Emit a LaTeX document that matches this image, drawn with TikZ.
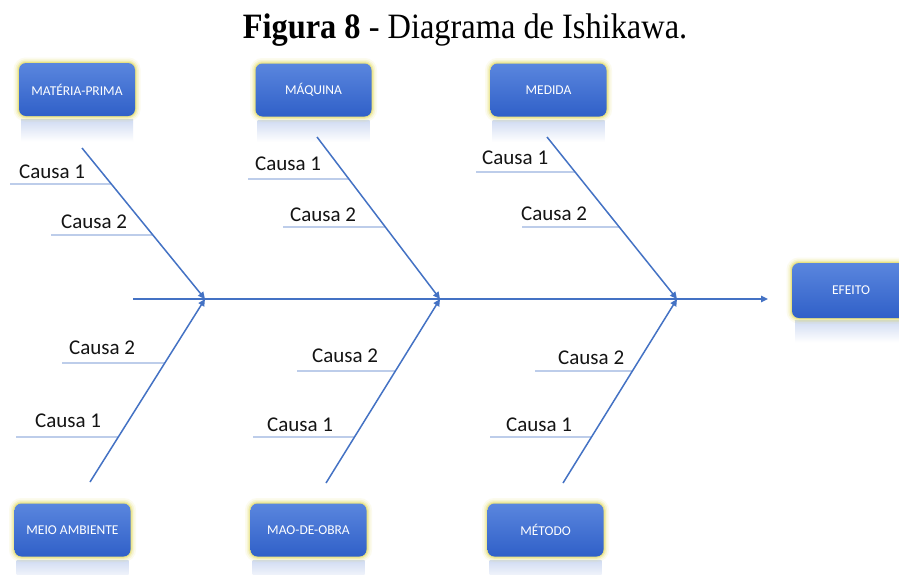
\documentclass[tikz,border=0pt]{standalone}
\usepackage{fontspec}
\setmainfont{Liberation Serif}
\newfontfamily\calib{Carlito}
\usetikzlibrary{arrows.meta,calc}

\definecolor{bone}{RGB}{68,114,196}
\definecolor{boxtop}{RGB}{90,134,222}
\definecolor{boxbot}{RGB}{48,96,200}
\definecolor{glow}{RGB}{226,218,96}
\definecolor{mirror}{RGB}{208,219,242}
\definecolor{ink}{RGB}{20,20,20}

\tikzset{
  cat/.style={rounded corners=7pt, minimum width=116pt, minimum height=53pt,
    inner sep=0pt, top color=boxtop, bottom color=boxbot, text=white,
    font=\calib\fontsize{13.5}{16}\selectfont,
    preaction={draw=glow, line width=11pt, draw opacity=0.10},
    preaction={draw=glow, line width=7.5pt, draw opacity=0.18},
    preaction={draw=glow, line width=4.5pt, draw opacity=0.32},
    preaction={draw=glow, line width=2pt, draw opacity=0.55}},
  reflect/.style={top color=mirror, bottom color=white},
  bonel/.style={draw=bone, line width=1.5pt},
  causel/.style={draw=bone, line width=0.9pt},
  tipped/.style={-{Triangle[length=7pt,width=6.5pt]}},
  causa/.style={anchor=base west, inner sep=0pt, text=ink,
    font=\calib\fontsize{21}{25}\selectfont},
}

% horizontal cause line from its free end to the bone it hangs on
\newcommand\causeline[3]{%
  \draw[causel] (#1) -- (intersection cs: first line={(#2)--(#3)},
    second line={(#1)--([xshift=10pt]#1)});}

\begin{document}
\begin{tikzpicture}[x=1pt,y=-1pt]
\clip (0,0) rectangle (899,574);
\fill[white] (0,0) rectangle (899,574);

% title
\node[anchor=base, inner sep=0pt, font=\fontsize{32.4}{38}\selectfont] (title)
  at (465,38) {\scalebox{1}[1.1]{\textbf{Figura 8} - Diagrama de Ishikawa.}};

% reflections under the category boxes
\foreach \cx/\cy in {77/89.5, 313.5/90, 548.5/90, 851/290.5, 72.5/530, 308.5/530, 545.5/530}{
  \shade[reflect] (\cx-56,\cy+30) rectangle (\cx+56,\cy+52);
}

% category boxes
\node[cat] (mp)  at (77,89.5)  {MATÉRIA-PRIMA};
\node[cat] (maq) at (313.5,90) {MÁQUINA};
\node[cat] (med) at (548.5,90) {MEDIDA};
\node[cat, minimum width=118pt, minimum height=55pt] (ef) at (851,290.5) {EFEITO};
\node[cat] (ma)  at (72.5,530)  {MEIO AMBIENTE};
\node[cat] (mo)  at (308.5,530) {MAO-DE-OBRA};
\node[cat] (met) at (545.5,530) {MÉTODO};

% spine
\coordinate (tail) at (133,299);
\coordinate (head) at (768,299);
\coordinate (j1) at (205,299);
\coordinate (j2) at (440,299);
\coordinate (j3) at (677,299);
\draw[bonel, tipped] (tail) -- (head);

% bones
\coordinate (mpS)  at (82,148);
\coordinate (maqS) at (317,137);
\coordinate (medS) at (547,137);
\coordinate (maS)  at (90,482);
\coordinate (moS)  at (326,483);
\coordinate (metS) at (563,483);
\draw[bonel, tipped] (mpS) -- (j1);
\draw[bonel, tipped] (maS) -- (j1);
\draw[bonel, tipped] (maqS) -- (j2);
\draw[bonel, tipped] (moS) -- (j2);
\draw[bonel, tipped] (medS) -- (j3);
\draw[bonel, tipped] (metS) -- (j3);

% cause lines
\coordinate (mp1) at (10,184);   \coordinate (mp2) at (51,235);
\coordinate (maq1) at (248,179); \coordinate (maq2) at (283,227);
\coordinate (med1) at (476,172); \coordinate (med2) at (522,227);
\coordinate (ma2) at (62,363);   \coordinate (ma1) at (16,437);
\coordinate (mo2) at (297,371);  \coordinate (mo1) at (253,437);
\coordinate (met2) at (535,371); \coordinate (met1) at (490,437);
\causeline{mp1}{mpS}{j1}  \causeline{mp2}{mpS}{j1}
\causeline{maq1}{maqS}{j2} \causeline{maq2}{maqS}{j2}
\causeline{med1}{medS}{j3} \causeline{med2}{medS}{j3}
\causeline{ma1}{maS}{j1}  \causeline{ma2}{maS}{j1}
\causeline{mo1}{moS}{j2}  \causeline{mo2}{moS}{j2}
\causeline{met1}{metS}{j3} \causeline{met2}{metS}{j3}

% cause labels
\node[causa] (tmp1) at (19,178) {Causa 1};
\node[causa] (tmp2) at (61,228) {Causa 2};
\node[causa] (tmaq1) at (255,170) {Causa 1};
\node[causa] (tmaq2) at (290,221) {Causa 2};
\node[causa] (tmed1) at (482,164) {Causa 1};
\node[causa] (tmed2) at (521,220) {Causa 2};
\node[causa] (tma2) at (69,354) {Causa 2};
\node[causa] (tma1) at (35,427) {Causa 1};
\node[causa] (tmo2) at (312,362) {Causa 2};
\node[causa] (tmo1) at (267,431) {Causa 1};
\node[causa] (tmet2) at (558,364) {Causa 2};
\node[causa] (tmet1) at (506,431) {Causa 1};
\end{tikzpicture}
\end{document}
